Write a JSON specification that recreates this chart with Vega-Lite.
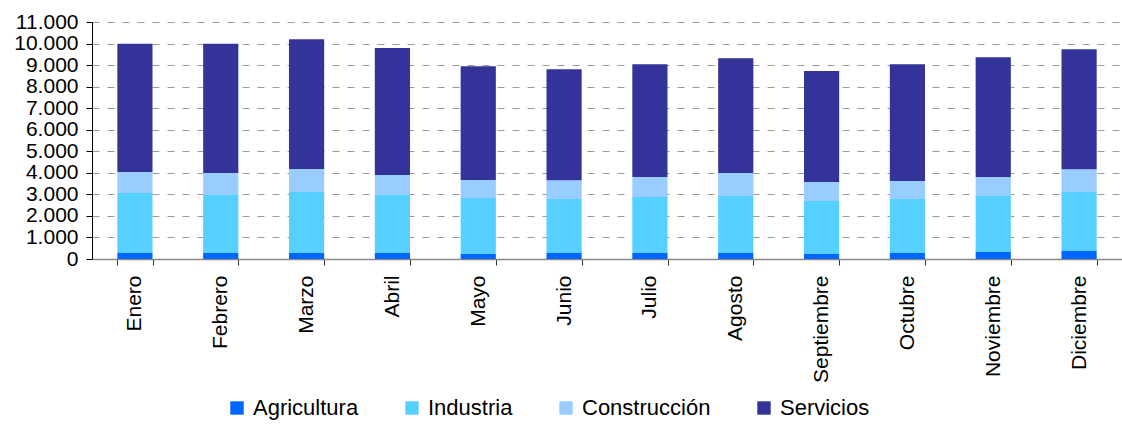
{
  "$schema": "https://vega.github.io/schema/vega-lite/v6.json",
  "width": 1030,
  "height": 237,
  "autosize": {"type": "none"},
  "padding": {"left": 92, "top": 22, "right": 0, "bottom": 165},
  "background": "white",
  "config": {
    "font": "Liberation Sans",
    "view": {"stroke": null}
  },
  "data": {
    "values": [
      {"mes": "Enero", "Agricultura": 280, "Industria": 2780, "Construcción": 975, "Servicios": 5950},
      {"mes": "Febrero", "Agricultura": 280, "Industria": 2690, "Construcción": 1020, "Servicios": 6000},
      {"mes": "Marzo", "Agricultura": 280, "Industria": 2830, "Construcción": 1065, "Servicios": 6030},
      {"mes": "Abril", "Agricultura": 280, "Industria": 2690, "Construcción": 930, "Servicios": 5890},
      {"mes": "Mayo", "Agricultura": 230, "Industria": 2600, "Construcción": 835, "Servicios": 5285},
      {"mes": "Junio", "Agricultura": 280, "Industria": 2500, "Construcción": 880, "Servicios": 5150},
      {"mes": "Julio", "Agricultura": 280, "Industria": 2595, "Construcción": 927, "Servicios": 5240},
      {"mes": "Agosto", "Agricultura": 280, "Industria": 2640, "Construcción": 1067, "Servicios": 5332},
      {"mes": "Septiembre", "Agricultura": 230, "Industria": 2460, "Construcción": 880, "Servicios": 5150},
      {"mes": "Octubre", "Agricultura": 280, "Industria": 2500, "Construcción": 835, "Servicios": 5425},
      {"mes": "Noviembre", "Agricultura": 325, "Industria": 2596, "Construcción": 880, "Servicios": 5565},
      {"mes": "Diciembre", "Agricultura": 370, "Industria": 2735, "Construcción": 1065, "Servicios": 5565}
    ]
  },
  "transform": [
    {"fold": ["Agricultura", "Industria", "Construcción", "Servicios"], "as": ["sector", "valor"]},
    {"calculate": "indexof(['Agricultura','Industria','Construcción','Servicios'], datum.sector)", "as": "orden"}
  ],
  "mark": {"type": "bar"},
  "encoding": {
    "x": {
      "field": "mes", "type": "nominal", "sort": null, "title": null,
      "scale": {"paddingInner": 0.59, "paddingOuter": 0.295},
      "axis": {
        "labelAngle": 270, "labelFontSize": 21, "labelColor": "black", "labelPadding": 10,
        "tickBand": "extent", "tickSize": 6, "tickColor": "#333",
        "domainColor": "#888", "domainWidth": 1.5
      }
    },
    "y": {
      "field": "valor", "type": "quantitative", "stack": "zero", "title": null,
      "scale": {"domain": [0, 11000], "nice": false},
      "axis": {
        "values": [0, 1000, 2000, 3000, 4000, 5000, 6000, 7000, 8000, 9000, 10000, 11000],
        "labelExpr": "replace(format(datum.value, ',.0f'), ',', '.')",
        "labelFontSize": 21, "labelColor": "black", "labelPadding": 8,
        "tickSize": 6, "tickColor": "black", "domainColor": "black",
        "grid": true, "gridColor": "#9a9a9a", "gridDash": [7, 8]
      }
    },
    "color": {
      "field": "sector", "type": "nominal", "sort": ["Agricultura", "Industria", "Construcción", "Servicios"],
      "scale": {"domain": ["Agricultura", "Industria", "Construcción", "Servicios"], "range": ["#0066FF", "#55D0FF", "#99CCFF", "#333399"]},
      "legend": {
        "title": null, "orient": "none", "direction": "horizontal", "legendX": 134, "legendY": 375,
        "symbolType": "square", "symbolSize": 180, "symbolStrokeWidth": 0,
        "labelFontSize": 22, "labelColor": "black", "labelOffset": 5, "columnPadding": 42
      }
    },
    "order": {"field": "orden", "sort": "ascending"}
  }
}
